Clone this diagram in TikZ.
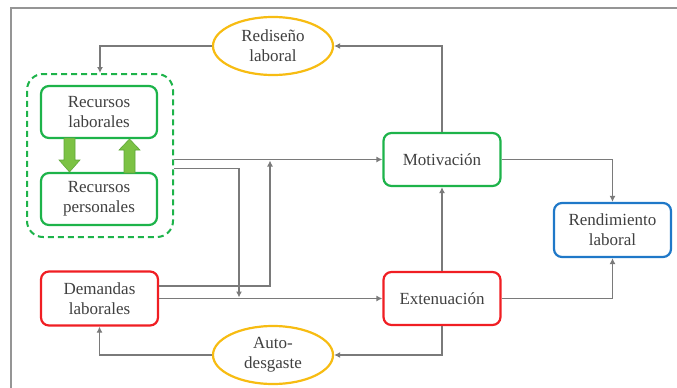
\documentclass[tikz,border=0pt]{standalone}
\usepackage{fontspec}
\setmainfont{Liberation Serif}
\usetikzlibrary{arrows.meta,shapes.geometric}
\definecolor{cgreen}{HTML}{1DB34A}
\definecolor{cred}{HTML}{F01E23}
\definecolor{cblue}{HTML}{1F78C8}
\definecolor{cgold}{HTML}{F7BC12}
\definecolor{cline}{HTML}{7A7A7A}
\definecolor{ctext}{HTML}{404040}
\definecolor{carrow}{HTML}{7CC244}
\definecolor{carrowd}{HTML}{5FA83A}
\tikzset{
  box/.style={draw, rounded corners=8pt, line width=2.2pt, fill=white, align=center,
    minimum width=117pt, minimum height=53pt, inner sep=2pt, text=ctext,
    font=\fontsize{17}{20}\selectfont},
  oval/.style={draw=cgold, ellipse, line width=2.2pt, fill=white, align=center,
    minimum width=120pt, minimum height=58pt, inner sep=0pt, text=ctext,
    font=\fontsize{17}{20}\selectfont},
  conn/.style={draw=cline, line width=1.8pt, -{Latex[length=6pt,width=6pt]}},
  bigarrow/.style={fill=carrow, draw=carrowd, line width=0.6pt}
}
\begin{document}
\begin{tikzpicture}[x=1pt,y=-1pt]
\useasboundingbox (0,0) rectangle (677,388);
% frame
\draw[cline!80, line width=1.6pt] (11,388) -- (11,8) -- (677,8);
% group
\node[draw=cgreen, dashed, dash pattern=on 6pt off 4pt, line width=2pt, rounded corners=16pt,
  minimum width=146pt, minimum height=163pt, inner sep=0pt] (grp) at (100,155.5) {};
\node[box, draw=cgreen, minimum width=116pt, minimum height=52pt] (rl) at (99,112) {Recursos\\laborales};
\node[box, draw=cgreen, minimum width=116pt, minimum height=52pt] (rp) at (99,199) {Recursos\\personales};
\node[box, draw=cred, minimum height=54pt] (dem) at (99.5,298.5) {Demandas\\laborales};
\node[box, draw=cgreen] (mot) at (442,159.5) {Motivación};
\node[box, draw=cred] (ext) at (442,298.5) {Extenuación};
\node[box, draw=cblue, minimum height=54pt] (ren) at (612.5,230) {Rendimiento\\laboral};
\node[oval] (red) at (273,46) {Rediseño\\laboral};
\node[oval] (aut) at (273,355) {Auto-\\desgaste};
% big green arrows
\draw[bigarrow] (64,138) -- (75,138) -- (75,160) -- (80,160) -- (69.5,172) -- (59,160) -- (64,160) -- cycle;
\draw[bigarrow] (124,173) -- (135,173) -- (135,150) -- (140,150) -- (129.5,139) -- (119,150) -- (124,150) -- cycle;
% joints
\coordinate (j1) at (270,159.5);
\coordinate (j2) at (239,298.5);
% connectors
\draw[conn] (grp.east |- mot.west) -- (mot.west);
\draw[conn, shorten >=1pt] ([yshift=-13pt]grp.east) -| (j2);
\draw[conn, shorten >=1pt] ([yshift=12.5pt]dem.east) -| (j1);
\draw[conn] (dem.east) -- (ext.west);
\draw[conn] (mot.north) |- (red.east);
\draw[conn] (red.west) -| (grp.north);
\draw[conn] (mot.east) -| (ren.north);
\draw[conn] (ext.east) -| (ren.south);
\draw[conn] (ext.north) -- (mot.south);
\draw[conn] (ext.south) |- (aut.east);
\draw[conn] (aut.west) -| (dem.south);
\end{tikzpicture}
\end{document}
